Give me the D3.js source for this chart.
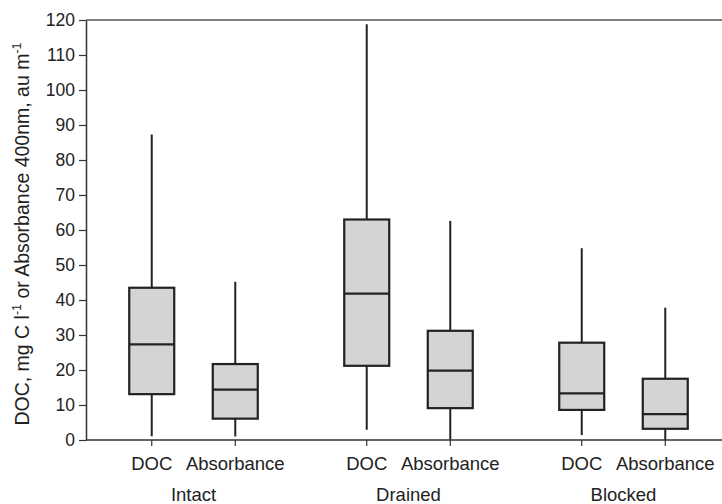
<!DOCTYPE html>
<html><head><meta charset="utf-8">
<script src="https://cdn.jsdelivr.net/npm/d3@7"></script>
<style>body{margin:0;background:#fff}svg{display:block}text{font-family:"Liberation Sans",Arial,Helvetica,sans-serif;fill:#222}</style>
</head><body><svg id="c" width="722" height="504"></svg>
<script>
const groups = ["Intact", "Drained", "Blocked"];
const measures = ["DOC", "Absorbance"];
// [whiskerLow, q1, median, q3, whiskerHigh] per group, per measure
const docStats = [[1.1, 13.1, 27.3, 43.5, 87.3], [2.9, 21.2, 41.8, 63.0, 118.8], [1.4, 8.6, 13.3, 27.8, 54.8]];
const absStats = [[1.0, 6.1, 14.4, 21.7, 45.2], [0.0, 9.1, 19.8, 31.2, 62.6], [0.0, 3.2, 7.4, 17.5, 37.8]];
const yTicks = [0, 10, 20, 30, 40, 50, 60, 70, 80, 90, 100, 110, 120];

const svg = d3.select("#c");
const L = 86, R = 731, T = 20, B = 440;
const y = d3.scaleLinear().domain([0, 120]).range([B, T]);
const xg = d3.scaleBand().domain(groups).range([L, R]);
const xm = d3.scalePoint().domain(measures).range([0, xg.bandwidth()]).padding(0.787);

const boxes = [];
groups.forEach((g, i) => {
  boxes.push({g, m: "DOC", s: docStats[i]});
  boxes.push({g, m: "Absorbance", s: absStats[i]});
});
const cx = d => xg(d.g) + xm(d.m);
const bw = 45;

// top frame line
svg.append("line").attr("x1", L).attr("x2", 722).attr("y1", T).attr("y2", T)
  .attr("stroke", "#555").attr("stroke-width", 1.5);

// whiskers
svg.selectAll("line.wh").data(boxes).join("line").attr("class", "wh")
  .attr("x1", cx).attr("x2", cx)
  .attr("y1", d => y(d.s[0])).attr("y2", d => y(d.s[4]))
  .attr("stroke", "#222").attr("stroke-width", 2);

// boxes
svg.selectAll("rect.box").data(boxes).join("rect").attr("class", "box")
  .attr("x", d => cx(d) - bw / 2).attr("width", bw)
  .attr("y", d => y(d.s[3])).attr("height", d => y(d.s[1]) - y(d.s[3]))
  .attr("fill", "#d3d4d6").attr("stroke", "#222").attr("stroke-width", 2.2);

// medians
svg.selectAll("line.med").data(boxes).join("line").attr("class", "med")
  .attr("x1", d => cx(d) - bw / 2).attr("x2", d => cx(d) + bw / 2)
  .attr("y1", d => y(d.s[2])).attr("y2", d => y(d.s[2]))
  .attr("stroke", "#222").attr("stroke-width", 2.2);

// y axis
const yAxis = svg.append("g").attr("transform", `translate(${L},0)`)
  .call(d3.axisLeft(y).tickValues(yTicks).tickSize(7).tickPadding(4).tickSizeOuter(0));
yAxis.select(".domain").attr("stroke", "#333").attr("stroke-width", 1.5);
yAxis.selectAll(".tick line").attr("stroke", "#333").attr("stroke-width", 1.2);
yAxis.selectAll(".tick text").attr("font-size", 17.5).style("fill", "#222");

// x axis
svg.append("line").attr("x1", L).attr("x2", 722).attr("y1", B).attr("y2", B)
  .attr("stroke", "#333").attr("stroke-width", 1.5);
svg.selectAll("line.xt").data(boxes).join("line").attr("class", "xt")
  .attr("x1", cx).attr("x2", cx).attr("y1", B).attr("y2", B + 6)
  .attr("stroke", "#333").attr("stroke-width", 1.2);
svg.selectAll("text.cat").data(boxes).join("text").attr("class", "cat")
  .attr("x", cx).attr("y", 470).attr("text-anchor", "middle").attr("font-size", 18.5)
  .text(d => d.m);
svg.selectAll("text.grp").data(groups).join("text").attr("class", "grp")
  .attr("x", d => xg(d) + xg.bandwidth() / 2).attr("y", 501).attr("text-anchor", "middle")
  .attr("font-size", 18.5).text(d => d);

// y title
const t = svg.append("text").attr("transform", "translate(29,234) rotate(-90)")
  .attr("text-anchor", "middle").attr("font-size", 19.5);
t.append("tspan").text("DOC, mg C l");
t.append("tspan").attr("dy", -8).attr("font-size", 12.5).text("-1");
t.append("tspan").attr("dy", 8).text(" or Absorbance 400nm, au m");
t.append("tspan").attr("dy", -8).attr("font-size", 12.5).text("-1");
</script></body></html>
